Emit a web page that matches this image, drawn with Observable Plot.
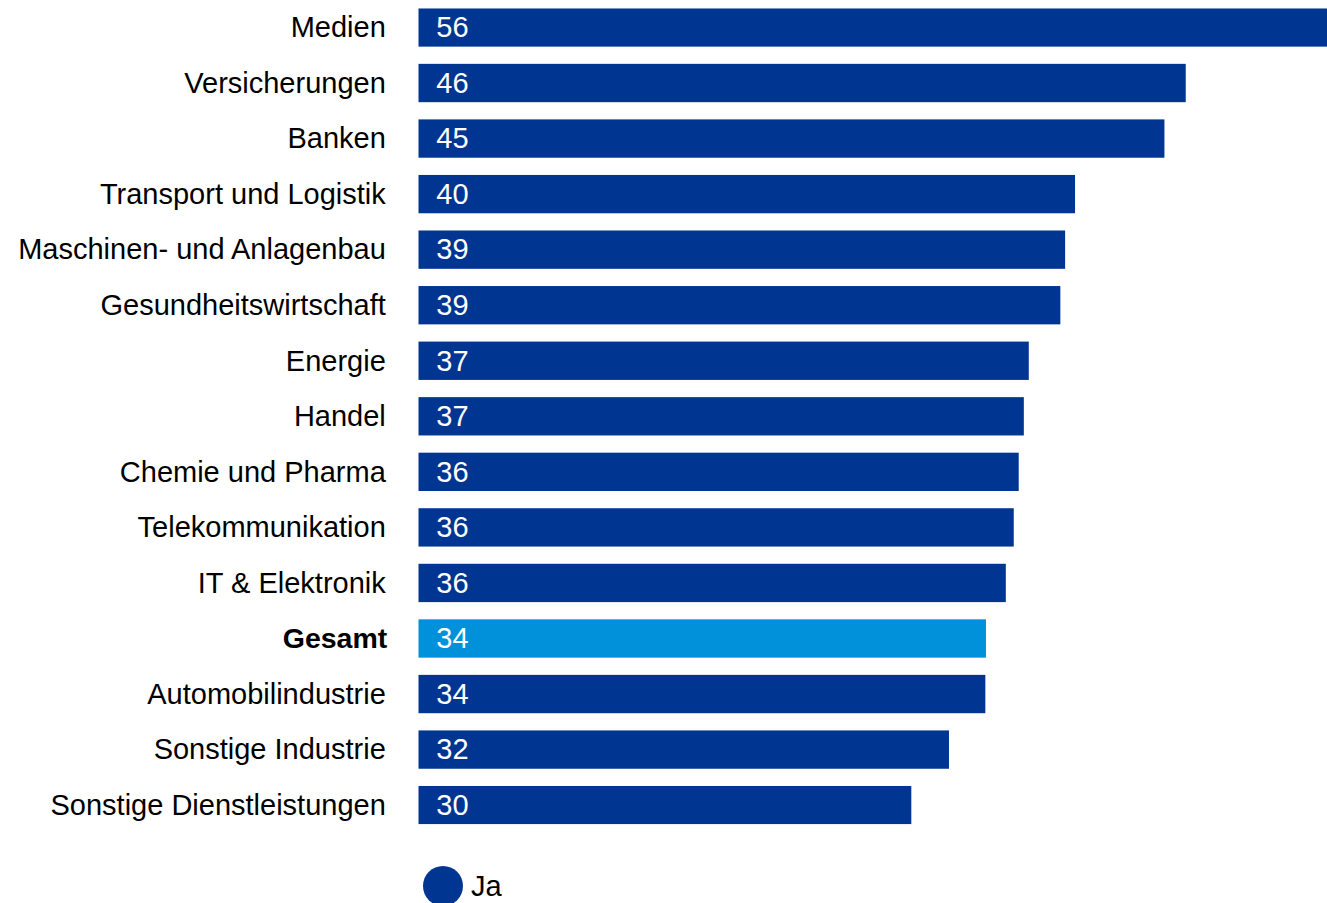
<!DOCTYPE html>
<html>
<head>
<meta charset="utf-8">
<script src="https://cdn.jsdelivr.net/npm/d3@7"></script>
<script src="https://cdn.jsdelivr.net/npm/@observablehq/plot@0.6"></script>
<style>
  html, body { margin: 0; padding: 0; background: #fff; overflow: hidden; }
  #chart svg { display: block; }
  .legend { display: flex; align-items: center; height: 41px; margin-top: 15.5px; padding-left: 422.5px;
            font-family: "Liberation Sans", Arial, sans-serif; font-size: 29px; color: #000; }
  .legend .dot { width: 40.6px; height: 40.6px; border-radius: 50%; background: #003591; margin-right: 8px; }
</style>
</head>
<body>
<div id="chart"></div>
<div class="legend"><span class="dot"></span><span id="legend-label"></span></div>
<script>
const categories = ["Medien", "Versicherungen", "Banken", "Transport und Logistik", "Maschinen- und Anlagenbau", "Gesundheitswirtschaft", "Energie", "Handel", "Chemie und Pharma", "Telekommunikation", "IT & Elektronik", "Gesamt", "Automobilindustrie", "Sonstige Industrie", "Sonstige Dienstleistungen"];
const values = [56.0, 46.45, 45.16, 39.75, 39.15, 38.86, 36.95, 36.65, 36.34, 36.04, 35.56, 34.36, 34.32, 32.12, 29.84];
const labels = [56, 46, 45, 40, 39, 39, 37, 37, 36, 36, 36, 34, 34, 32, 30];
const highlight = "Gesamt";
const seriesName = "Ja";

const DARK = "#003591";
const LIGHT = "#0091DA";

const rows = categories.map((c, i) => ({category: c, value: values[i], label: String(labels[i])}));

const chart = Plot.plot({
  width: 1327,
  height: 850,
  marginLeft: 418.3,
  marginRight: 0,
  marginTop: 8.3,
  marginBottom: 25.7,
  style: {fontFamily: "'Liberation Sans', Arial, sans-serif", fontSize: "29px", color: "#000", background: "#fff"},
  x: {domain: [0, 55], axis: null},
  y: {domain: categories, range: [8.3, 824.3], paddingInner: 0.31, paddingOuter: 0, round: false, axis: null},
  marks: [
    Plot.barX(rows, {y: "category", x: "value", fill: d => d.category === highlight ? LIGHT : DARK, clip: true}),
    Plot.text(rows, {y: "category", text: "label", frameAnchor: "left", textAnchor: "start", dx: 17.5, fill: "#fff", fontSize: 29}),
    Plot.text(rows.filter(d => d.category !== highlight), {y: "category", text: "category", frameAnchor: "left", textAnchor: "end", dx: -33, fill: "#000", fontSize: 29}),
    Plot.text(rows.filter(d => d.category === highlight), {y: "category", text: "category", frameAnchor: "left", textAnchor: "end", dx: -31.5, fill: "#000", fontSize: 28.5, fontWeight: "bold"})
  ]
});
document.getElementById("chart").appendChild(chart);
document.getElementById("legend-label").textContent = seriesName;
</script>
</body>
</html>
